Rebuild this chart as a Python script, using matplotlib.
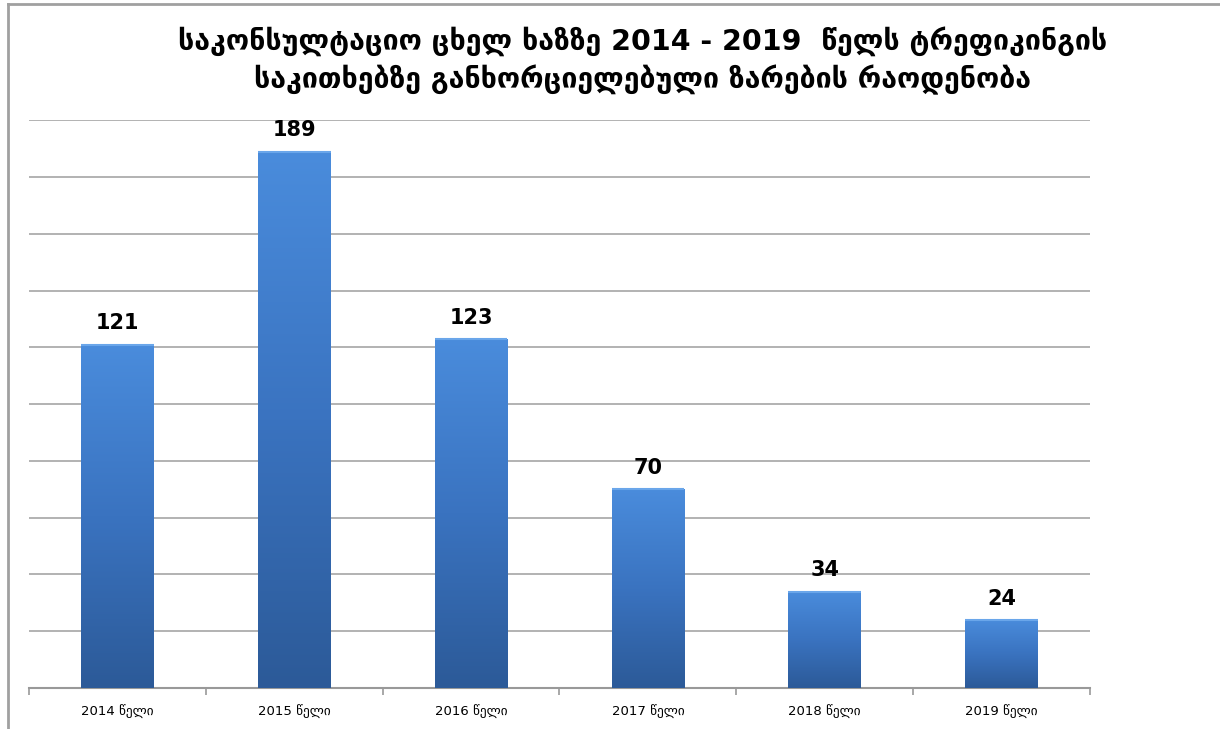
import matplotlib
matplotlib.use('Agg')
import matplotlib.pyplot as plt
from matplotlib.colors import LinearSegmentedColormap
from matplotlib.lines import Line2D
import numpy as np

categories = ['2014 წელი', '2015 წელი', '2016 წელი', '2017 წელი', '2018 წელი', '2019 წელი']
values = [121, 189, 123, 70, 34, 24]
title = ('საკონსულტაციო ცხელ ხაზზე 2014 - 2019  წელს ტრეფიკინგის\n'
         'საკითხებზე განხორციელებული ზარების რაოდენობა')

fig = plt.figure(figsize=(12.2, 7.29), dpi=100)
ax = fig.add_axes([0.0238, 0.0562, 0.8696, 0.7788])

x = np.arange(len(categories))
bars = ax.bar(x, values, width=0.41, color='#3a72bd', zorder=3)

# vertical gradient on each bar
cmap = LinearSegmentedColormap.from_list('bar', ['#2c5a98', '#3a73c0', '#4a8cdc'])
grad = np.linspace(0, 1, 256).reshape(-1, 1)
for b in bars:
    x0, y0 = b.get_x(), b.get_y()
    w, h = b.get_width(), b.get_height()
    im = ax.imshow(grad, cmap=cmap, origin='lower', aspect='auto',
                   extent=[x0, x0 + w, y0, y0 + h], zorder=3)
    im.set_clip_path(b)
    ax.plot([x0, x0 + w], [y0 + h, y0 + h], color='#6aa6ea', lw=1.5, zorder=4,
            solid_capstyle='butt')

for xi, v in zip(x, values):
    ax.text(xi, v + 4, str(v), ha='center', va='bottom', fontsize=15,
            fontweight='bold', color='black', zorder=5)

ax.set_xlim(-0.5, len(categories) - 0.5)
ax.set_ylim(0, 200)
ax.set_yticks(np.arange(20, 201, 20))
ax.yaxis.grid(True, color='#a6a6a6', lw=1.2, zorder=0)
ax.tick_params(axis='y', left=False, labelleft=False)

ax.set_xticks(x)
ax.set_xticklabels(categories, fontsize=9.5)
ax.set_xticks(np.arange(-0.5, len(categories), 1), minor=True)
ax.tick_params(axis='x', which='major', length=0, pad=12)
ax.tick_params(axis='x', which='minor', length=5, color='#999999', width=1.2)

for s in ['top', 'right', 'left']:
    ax.spines[s].set_visible(False)
ax.spines['bottom'].set_color('#999999')
ax.spines['bottom'].set_linewidth(1.5)

fig.text(0.527, 0.917, title, ha='center', va='center', fontsize=20.5,
         fontweight='bold', linespacing=1.4)

# frame lines
fig.add_artist(Line2D([0.0066, 0.0066], [0, 0.995], transform=fig.transFigure,
                      color='#a0a0a0', lw=2))
fig.add_artist(Line2D([0.0066, 1], [0.995, 0.995], transform=fig.transFigure,
                      color='#a0a0a0', lw=2))

fig.savefig('out.png', dpi=100)
